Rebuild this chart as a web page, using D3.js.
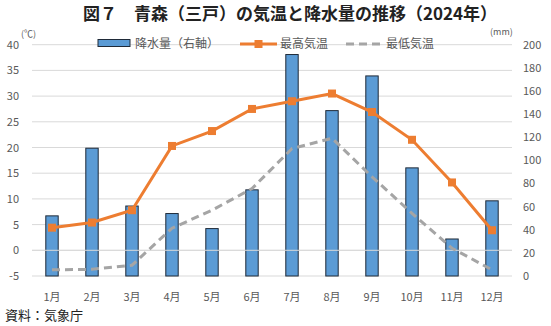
<!DOCTYPE html>
<html><head><meta charset="utf-8">
<script src="https://cdn.jsdelivr.net/npm/d3@7"></script>
<style>
body{margin:0;background:#fff;}
text{font-family:"Noto Sans CJK JP","Noto Sans",sans-serif;}
</style></head>
<body><svg id="c" width="551" height="326"></svg>
<script>
const months = ["1月","2月","3月","4月","5月","6月","7月","8月","9月","10月","11月","12月"];
const rain = [52, 110.5, 60.5, 54, 41, 74.5, 191.5, 143, 173, 93.5, 32, 65];
const tmax = [4.4, 5.4, 7.8, 20.3, 23.2, 27.5, 29.0, 30.5, 26.9, 21.5, 13.2, 3.9];
const tmin = [-3.8, -3.7, -2.9, 4.3, 7.8, 12.0, 19.8, 21.8, 14.3, 7.2, 0.4, -3.8];
const leftTicks = [-5,0,5,10,15,20,25,30,35,40];
const rightTicks = [0,20,40,60,80,100,120,140,160,180,200];

const svg = d3.select("#c");
const L=32, R=512, T=44.7, B=276;
const x = d3.scaleBand().domain(months).range([L,R]);
const yL = d3.scaleLinear().domain([-5,40]).range([B,T]);
const yR = d3.scaleLinear().domain([0,200]).range([B,T]);

// title
svg.append("text").attr("x",290).attr("y",20).attr("text-anchor","middle")
  .attr("font-size",17).attr("font-weight","bold").attr("fill","#222")
  .text("図７　青森（三戸）の気温と降水量の推移（2024年）");

// gridlines
svg.append("g").selectAll("line").data(leftTicks).join("line")
  .attr("x1",L).attr("x2",R).attr("y1",d=>yL(d)).attr("y2",d=>yL(d))
  .attr("stroke","#d9d9d9").attr("stroke-width",1);

// left axis labels
svg.append("g").selectAll("text").data(leftTicks).join("text")
  .attr("x",19).attr("y",d=>yL(d)+4).attr("text-anchor","end")
  .attr("font-size",11).attr("fill","#595959").text(d=>d);
// right axis labels
svg.append("g").selectAll("text").data(rightTicks).join("text")
  .attr("x",523).attr("y",d=>yR(d)+4).attr("text-anchor","start")
  .attr("font-size",11).attr("fill","#595959").text(d=>d);
svg.append("text").attr("x",21).attr("y",37).attr("font-size",9).attr("fill","#595959").text("(℃)");
svg.append("text").attr("x",490).attr("y",35).attr("font-size",9).attr("fill","#595959").text("(mm)");

// bars
const bw = 12.4;
svg.append("g").selectAll("rect").data(rain).join("rect")
  .attr("x",(d,i)=>x(months[i])+x.bandwidth()/2-bw/2)
  .attr("y",d=>yR(d)).attr("width",bw).attr("height",d=>B-yR(d))
  .attr("fill","#5b9bd5").attr("stroke","#1f2a38").attr("stroke-width",1);

// zero line over bars
svg.append("line").attr("x1",L).attr("x2",R).attr("y1",yL(0)).attr("y2",yL(0))
  .attr("stroke","#d9d9d9").attr("stroke-width",1);

const cx = (d,i)=>x(months[i])+x.bandwidth()/2;
// min temp dashed
svg.append("path").datum(tmin)
  .attr("d",d3.line().x(cx).y(d=>yL(d)))
  .attr("fill","none").attr("stroke","#a5a5a5").attr("stroke-width",3)
  .attr("stroke-dasharray","8,5");
// max temp
svg.append("path").datum(tmax)
  .attr("d",d3.line().x(cx).y(d=>yL(d)))
  .attr("fill","none").attr("stroke","#ed7d31").attr("stroke-width",3);
svg.append("g").selectAll("rect").data(tmax).join("rect")
  .attr("x",(d,i)=>cx(d,i)-4).attr("y",d=>yL(d)-4).attr("width",8).attr("height",8)
  .attr("fill","#ed7d31");

// x labels
svg.append("g").selectAll("text").data(months).join("text")
  .attr("x",d=>x(d)+x.bandwidth()/2).attr("y",301).attr("text-anchor","middle")
  .attr("font-size",11).attr("fill","#595959").text(d=>d);

// legend
const lg = svg.append("g");
lg.append("rect").attr("x",98).attr("y",39.5).attr("width",32).attr("height",7)
  .attr("fill","#5b9bd5").attr("stroke","#1f2a38").attr("stroke-width",1);
lg.append("text").attr("x",135).attr("y",48).attr("font-size",12).attr("fill","#595959").text("降水量（右軸）");
lg.append("line").attr("x1",240).attr("x2",277).attr("y1",44).attr("y2",44)
  .attr("stroke","#ed7d31").attr("stroke-width",3);
lg.append("rect").attr("x",254.5).attr("y",40).attr("width",8).attr("height",8).attr("fill","#ed7d31");
lg.append("text").attr("x",280).attr("y",48).attr("font-size",12).attr("fill","#595959").text("最高気温");
lg.append("line").attr("x1",346).attr("x2",382).attr("y1",44).attr("y2",44)
  .attr("stroke","#a5a5a5").attr("stroke-width",3).attr("stroke-dasharray","8,5");
lg.append("text").attr("x",386).attr("y",48).attr("font-size",12).attr("fill","#595959").text("最低気温");

// source
svg.append("text").attr("x",5).attr("y",320).attr("font-size",13).attr("fill","#222").text("資料：気象庁");
</script></body></html>
